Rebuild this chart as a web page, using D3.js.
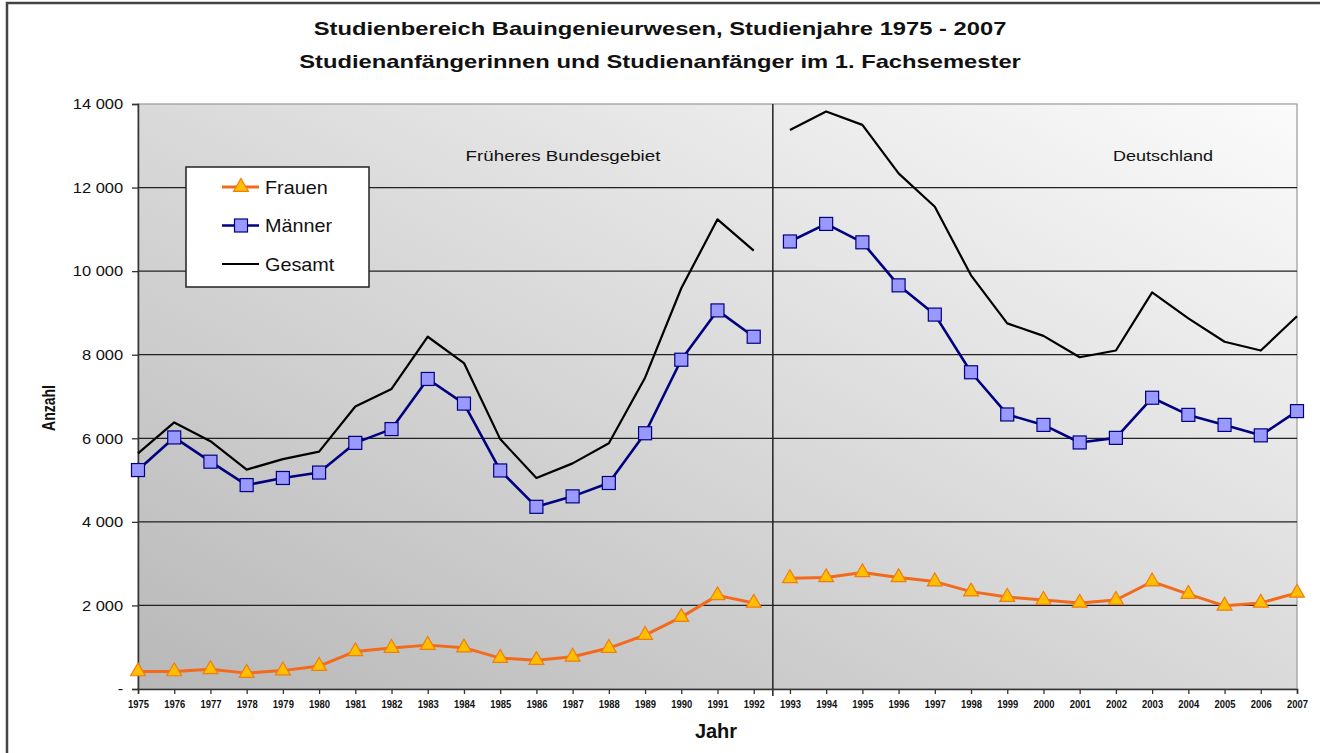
<!DOCTYPE html>
<html lang="de">
<head>
  <meta charset="utf-8">
  <title>Studienbereich Bauingenieurwesen</title>
  <script src="https://cdn.jsdelivr.net/npm/d3@7"></script>
  <style>
    body { margin: 0; background: #fff; }
    svg { display: block; font-family: "Liberation Sans", Arial, sans-serif; }
  </style>
</head>
<body>
  <svg id="chart" width="1320" height="753"></svg>
  <script>
    // Data
    const years = [1975, 1976, 1977, 1978, 1979, 1980, 1981, 1982, 1983, 1984,
                   1985, 1986, 1987, 1988, 1989, 1990, 1991, 1992, 1993, 1994,
                   1995, 1996, 1997, 1998, 1999, 2000, 2001, 2002, 2003, 2004,
                   2005, 2006, 2007];
    const frauen = [420, 420, 470, 380, 440, 550, 900, 980, 1050, 990,
                    740, 690, 770, 980, 1290, 1720, 2240, 2060, 2650, 2670,
                    2790, 2670, 2570, 2330, 2200, 2130, 2060, 2130, 2570, 2270,
                    1990, 2060, 2300];
    const maenner = [5240, 6020, 5440, 4880, 5050, 5180, 5890, 6220, 7420, 6830,
                     5230, 4360, 4610, 4930, 6120, 7880, 9060, 8430, 10710, 11130,
                     10690, 9660, 8960, 7580, 6570, 6320, 5900, 6010, 6970, 6560,
                     6320, 6070, 6650];
    const gesamt = [5640, 6380, 5930, 5250, 5500, 5680, 6760, 7180, 8430, 7800,
                    5980, 5050, 5400, 5880, 7450, 9590, 11240, 10490, 13380, 13820,
                    13500, 12340, 11540, 9900, 8750, 8450, 7940, 8100, 9490, 8870,
                    8310, 8100, 8920];
    const yTicks = [0, 2000, 4000, 6000, 8000, 10000, 12000, 14000];
    const lastOld = 1992; // Früheres Bundesgebiet bis 1992, danach Deutschland

    const svg = d3.select("#chart");
    const pLeft = 138, pRight = 1297, pTop = 104, pBottom = 689;

    const x = d3.scalePoint().domain(years).range([pLeft, pRight]);
    const y = d3.scaleLinear().domain([0, 14000]).range([pBottom, pTop]);

    // text helper: the original picture is stretched sideways a bit
    function label(parent, px, py, str, o) {
      const g = parent.append("g")
        .attr("transform", `translate(${px},${py}) scale(${o.sx || 1},1)`);
      return g.append("text")
        .attr("text-anchor", o.anchor || "middle")
        .attr("font-size", o.size)
        .attr("font-weight", o.bold ? "bold" : "normal")
        .attr("fill", "#111")
        .text(str);
    }

    // outer frame
    svg.append("rect")
      .attr("x", 7).attr("y", 3).attr("width", 1330).attr("height", 770)
      .attr("fill", "none").attr("stroke", "#444").attr("stroke-width", 2.5);

    // plot background gradient
    const grad = svg.append("defs").append("linearGradient")
      .attr("id", "bg").attr("x1", 0).attr("y1", 1).attr("x2", 1).attr("y2", 0);
    grad.append("stop").attr("offset", "0%").attr("stop-color", "#b8b8b8");
    grad.append("stop").attr("offset", "100%").attr("stop-color", "#fbfbfb");

    svg.append("rect")
      .attr("x", pLeft).attr("y", pTop)
      .attr("width", pRight - pLeft).attr("height", pBottom - pTop)
      .attr("fill", "url(#bg)")
      .attr("stroke", "#999").attr("stroke-width", 1.2);

    // gridlines
    svg.append("g")
      .selectAll("line")
      .data(yTicks.filter(d => d > 0 && d < 14000))
      .join("line")
        .attr("x1", pLeft).attr("x2", pRight)
        .attr("y1", d => y(d)).attr("y2", d => y(d))
        .attr("stroke", "#222").attr("stroke-width", 1.3);

    // separator between 1992 and 1993
    const sepX = (x(lastOld) + x(lastOld + 1)) / 2 + 1;
    svg.append("line")
      .attr("x1", sepX).attr("x2", sepX)
      .attr("y1", pTop).attr("y2", pBottom + 7)
      .attr("stroke", "#222").attr("stroke-width", 1.5);

    // axes
    const yAxis = svg.append("g")
      .attr("transform", `translate(${pLeft},0)`)
      .call(d3.axisLeft(y).tickValues(yTicks).tickSize(6).tickPadding(7.5)
        .tickFormat(d => d === 0 ? "-" : d3.format(",")(d).replace(",", " ")));
    yAxis.select(".domain").attr("stroke", "#333").attr("stroke-width", 1.5);
    yAxis.selectAll(".tick line").attr("stroke", "#333").attr("stroke-width", 1.3);
    yAxis.selectAll("text")
      .attr("font-size", 15).attr("fill", "#111")
      .attr("font-family", "Liberation Sans, Arial, sans-serif")
      .attr("transform", "scale(1.1,1)");

    const xAxis = svg.append("g")
      .attr("transform", `translate(0,${pBottom})`)
      .call(d3.axisBottom(x).tickSize(5).tickPadding(6));
    xAxis.select(".domain").attr("stroke", "#333").attr("stroke-width", 1.5);
    xAxis.selectAll(".tick line").attr("stroke", "#333").attr("stroke-width", 1.3);
    xAxis.selectAll("text")
      .attr("font-size", 11).attr("font-weight", "bold").attr("fill", "#111")
      .attr("font-family", "Liberation Sans, Arial, sans-serif")
      .attr("transform", "scale(0.86,1)");

    // series, broken between 1992 and 1993
    const rows = years.map((yr, i) => ({ yr, f: frauen[i], m: maenner[i], g: gesamt[i] }));
    const parts = [rows.filter(d => d.yr <= lastOld), rows.filter(d => d.yr > lastOld)];

    const series = [
      { key: "g", color: "#000", width: 2.2 },
      { key: "m", color: "#000080", width: 2.6 },
      { key: "f", color: "#f26a1b", width: 3 }
    ];
    series.forEach(s => {
      const line = d3.line().x(d => x(d.yr)).y(d => y(d[s.key]));
      svg.append("g").selectAll("path")
        .data(parts)
        .join("path")
          .attr("d", line)
          .attr("fill", "none")
          .attr("stroke", s.color)
          .attr("stroke-width", s.width)
          .attr("stroke-linejoin", "round");
    });

    const tri = d3.symbol().type(d3.symbolTriangle).size(95);
    svg.append("g").selectAll("rect")
      .data(rows)
      .join("rect")
        .attr("x", d => x(d.yr) - 6.5).attr("y", d => y(d.m) - 6.5)
        .attr("width", 13).attr("height", 13)
        .attr("fill", "#9999ff").attr("stroke", "#000080").attr("stroke-width", 1.2);
    svg.append("g").selectAll("path")
      .data(rows)
      .join("path")
        .attr("transform", d => `translate(${x(d.yr)},${y(d.f)})`)
        .attr("d", tri)
        .attr("fill", "#ffbf00").attr("stroke", "#ef7d10").attr("stroke-width", 1.2);

    // titles
    label(svg, 660, 35, "Studienbereich Bauingenieurwesen, Studienjahre 1975 - 2007",
      { size: 19, bold: true, sx: 1.25 });
    label(svg, 660, 68, "Studienanfängerinnen und Studienanfänger im 1. Fachsemester",
      { size: 19, bold: true, sx: 1.25 });

    svg.append("text")
      .attr("transform", "translate(55,408) rotate(-90) scale(1,1.35)")
      .attr("text-anchor", "middle")
      .attr("font-size", 14).attr("font-weight", "bold").attr("fill", "#111")
      .text("Anzahl");
    label(svg, 716, 738, "Jahr", { size: 20, bold: true });

    // region labels
    label(svg, 563, 161, "Früheres Bundesgebiet", { size: 15, sx: 1.25 });
    label(svg, 1163, 161, "Deutschland", { size: 15, sx: 1.2 });

    // legend
    const lg = svg.append("g").attr("transform", "translate(186,167)");
    lg.append("rect").attr("width", 183).attr("height", 120)
      .attr("fill", "#fff").attr("stroke", "#222").attr("stroke-width", 1.5);
    const legendItems = [
      { name: "Frauen", key: "f" },
      { name: "Männer", key: "m" },
      { name: "Gesamt", key: "g" }
    ];
    legendItems.forEach((it, i) => {
      const s = series.find(d => d.key === it.key);
      const ly = 20 + i * 38.5;
      lg.append("line").attr("x1", 36).attr("x2", 73).attr("y1", ly).attr("y2", ly)
        .attr("stroke", s.color).attr("stroke-width", s.width);
      if (it.key === "f") {
        lg.append("path").attr("transform", `translate(55,${ly})`).attr("d", tri)
          .attr("fill", "#ffbf00").attr("stroke", "#ef7d10").attr("stroke-width", 1.2);
      } else if (it.key === "m") {
        lg.append("rect").attr("x", 55 - 6.5).attr("y", ly - 6.5).attr("width", 13).attr("height", 13)
          .attr("fill", "#9999ff").attr("stroke", "#000080").attr("stroke-width", 1.2);
      }
      label(lg, 79, ly + 6.5, it.name, { size: 18, sx: 1.1, anchor: "start" });
    });
  </script>
</body>
</html>
